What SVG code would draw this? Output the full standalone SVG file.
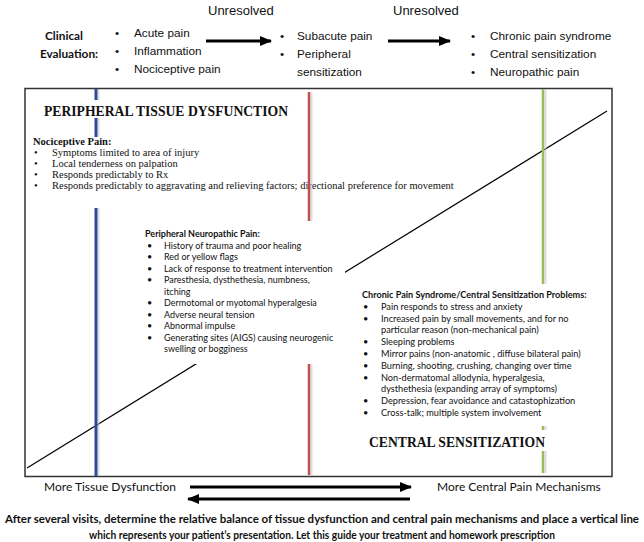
<svg xmlns="http://www.w3.org/2000/svg" width="644" height="542" viewBox="0 0 644 542">
<defs>
<marker id="ah" viewBox="0 0 12 10" refX="11" refY="5" markerWidth="12" markerHeight="10" markerUnits="userSpaceOnUse" orient="auto">
<path d="M0,0 L12,5 L0,10 z" fill="#000"/>
</marker>
</defs>
<style>
.top{font-family:"Liberation Sans",Arial,sans-serif;font-size:11.8px;fill:#111}
.unres{font-family:"Liberation Sans",Arial,sans-serif;font-size:13px;fill:#111}
.clin{font-family:Lato,"Liberation Sans",sans-serif;font-size:11.8px;font-weight:bold;fill:#111}
.ttl{font-family:"Liberation Serif","Times New Roman",serif;font-size:15px;font-weight:bold;fill:#111}
.ser{font-family:"Liberation Serif","Times New Roman",serif;font-size:10.5px;fill:#111}
.serb{font-family:"Liberation Serif","Times New Roman",serif;font-size:10.5px;font-weight:bold;fill:#111}
.cal{font-family:Lato,"Liberation Sans",sans-serif;font-size:9.2px;fill:#111}
.calb{font-family:Lato,"Liberation Sans",sans-serif;font-size:9.1px;font-weight:bold;fill:#111}
.caln{font-family:Lato,"Liberation Sans",sans-serif;font-size:9px;fill:#111}
.calnb{font-family:Lato,"Liberation Sans",sans-serif;font-size:9px;font-weight:bold;fill:#111}
.lbl{font-family:Lato,"Liberation Sans",sans-serif;font-size:12px;fill:#111}
.para{font-family:Lato,"Liberation Sans",sans-serif;font-size:11.2px;font-weight:bold;fill:#111}
.mask{fill:#fff}
.arr{stroke:#000;stroke-width:2.8;fill:none}
.shadow{stroke:#c8c8c8;stroke-width:2;opacity:0.6}
</style>
<rect width="644" height="542" fill="#fff"/>

<g id="header">
<text class="unres" x="208" y="15">Unresolved</text>
<text class="unres" x="393" y="15">Unresolved</text>
<text class="clin" x="64" y="40" text-anchor="middle">Clinical</text>
<text class="clin" x="69" y="58" text-anchor="middle">Evaluation:</text>
</g>

<g id="stage-acute">
<text class="top" x="115" y="37">•</text><text class="top" x="134" y="37">Acute pain</text>
<text class="top" x="115" y="55">•</text><text class="top" x="134" y="55">Inflammation</text>
<text class="top" x="115" y="73">•</text><text class="top" x="134" y="73">Nociceptive pain</text>
</g>
<g id="stage-subacute">
<text class="top" x="280" y="40">•</text><text class="top" x="297" y="40">Subacute pain</text>
<text class="top" x="280" y="58">•</text><text class="top" x="297" y="58">Peripheral</text>
<text class="top" x="297" y="76">sensitization</text>
</g>
<g id="stage-chronic">
<text class="top" x="471" y="40">•</text><text class="top" x="490" y="40">Chronic pain syndrome</text>
<text class="top" x="471" y="58">•</text><text class="top" x="490" y="58">Central sensitization</text>
<text class="top" x="471" y="76">•</text><text class="top" x="490" y="76">Neuropathic pain</text>
</g>

<g id="connectors">
<line class="arr" x1="206" y1="41" x2="271" y2="41" marker-end="url(#ah)"/>
<line class="arr" x1="388" y1="41" x2="450" y2="41" marker-end="url(#ah)"/>
<line class="arr" x1="190" y1="487" x2="411" y2="487" marker-end="url(#ah)"/>
<line class="arr" x1="410" y1="499" x2="188" y2="499" marker-end="url(#ah)"/>
</g>

<g id="spectrum-box">
<rect x="25" y="88.5" width="587" height="388" fill="#fff" stroke="#333" stroke-width="1.5"/>
<line x1="27" y1="468" x2="607" y2="111" stroke="#000" stroke-width="1.2"/>
<line class="shadow" x1="98.5" y1="89" x2="98.5" y2="476"/>
<line x1="96" y1="89" x2="96" y2="476" stroke="#2E4A9E" stroke-width="3"/>
</g>

<g id="title-peripheral">
<rect class="mask" x="40" y="100" width="252" height="18"/>
<text class="ttl" x="44" y="116" textLength="244" lengthAdjust="spacingAndGlyphs">PERIPHERAL TISSUE DYSFUNCTION</text>
</g>

<g id="nociceptive">
<rect class="mask" x="30" y="137" width="428" height="56"/>
<rect class="mask" x="90" y="192" width="14" height="16"/>
<text class="serb" x="33" y="145">Nociceptive Pain:</text>
<text class="ser" x="34" y="156">•</text><text class="ser" x="52" y="156">Symptoms limited to area of injury</text>
<text class="ser" x="34" y="167">•</text><text class="ser" x="52" y="167">Local tenderness on palpation</text>
<text class="ser" x="34" y="178">•</text><text class="ser" x="52" y="178">Responds predictably to Rx</text>
<text class="ser" x="34" y="189">•</text><text class="ser" x="52" y="189">Responds predictably to aggravating and relieving factors; directional preference for movement</text>
</g>

<g id="red-line">
<line class="shadow" x1="311.5" y1="92" x2="311.5" y2="475"/>
<line x1="309" y1="92" x2="309" y2="475" stroke="#C0504D" stroke-width="2.5"/>
</g>
<g id="green-line">
<line class="shadow" x1="545.5" y1="89" x2="545.5" y2="473"/>
<line x1="543" y1="89" x2="543" y2="473" stroke="#9BBB59" stroke-width="2.5"/>
</g>

<g id="neuropathic">
<rect class="mask" x="140" y="221" width="205" height="143"/>
<text class="calnb" x="145" y="237">Peripheral Neuropathic Pain:</text>
<text class="caln" x="147" y="248.5">•</text><text class="caln" x="164" y="248.5">History of trauma and poor healing</text>
<text class="caln" x="147" y="260">•</text><text class="caln" x="164" y="260">Red or yellow flags</text>
<text class="caln" x="147" y="271.5">•</text><text class="caln" x="164" y="271.5">Lack of response to treatment intervention</text>
<text class="caln" x="147" y="283">•</text><text class="caln" x="164" y="283">Paresthesia, dysthethesia, numbness,</text>
<text class="caln" x="164" y="294.5">itching</text>
<text class="caln" x="147" y="306">•</text><text class="caln" x="164" y="306">Dermotomal or myotomal hyperalgesia</text>
<text class="caln" x="147" y="317.5">•</text><text class="caln" x="164" y="317.5">Adverse neural tension</text>
<text class="caln" x="147" y="329">•</text><text class="caln" x="164" y="329">Abnormal impulse</text>
<text class="caln" x="147" y="340.5">•</text><text class="caln" x="164" y="340.5">Generating sites (AIGS) causing neurogenic</text>
<text class="caln" x="164" y="352">swelling or bogginess</text>
</g>

<g id="chronic">
<rect class="mask" x="355" y="284" width="255" height="142"/>
<text class="calb" x="362" y="298">Chronic Pain Syndrome/Central Sensitization Problems:</text>
<text class="cal" x="363" y="309.8">•</text><text class="cal" x="381" y="309.8">Pain responds to stress and anxiety</text>
<text class="cal" x="363" y="321.6">•</text><text class="cal" x="381" y="321.6">Increased pain by small movements, and for no</text>
<text class="cal" x="381" y="333.4">particular reason (non-mechanical pain)</text>
<text class="cal" x="363" y="345.2">•</text><text class="cal" x="381" y="345.2">Sleeping problems</text>
<text class="cal" x="363" y="357">•</text><text class="cal" x="381" y="357">Mirror pains (non-anatomic , diffuse bilateral pain)</text>
<text class="cal" x="363" y="368.8">•</text><text class="cal" x="381" y="368.8">Burning, shooting, crushing, changing over time</text>
<text class="cal" x="363" y="380.6">•</text><text class="cal" x="381" y="380.6">Non-dermatomal allodynia, hyperalgesia,</text>
<text class="cal" x="381" y="392.4">dysthethesia (expanding array of symptoms)</text>
<text class="cal" x="363" y="404.2">•</text><text class="cal" x="381" y="404.2">Depression, fear avoidance and catastophization</text>
<text class="cal" x="363" y="416">•</text><text class="cal" x="381" y="416">Cross-talk; multiple system involvement</text>
</g>

<g id="title-central">
<rect class="mask" x="365" y="430" width="184" height="21"/>
<text class="ttl" x="369" y="447" textLength="176" lengthAdjust="spacingAndGlyphs">CENTRAL SENSITIZATION</text>
</g>

<g id="axis-labels">
<text class="lbl" x="44" y="491">More Tissue Dysfunction</text>
<text class="lbl" x="437" y="491">More Central Pain Mechanisms</text>
</g>

<g id="footer">
<text class="para" x="5" y="523" textLength="634" lengthAdjust="spacingAndGlyphs">After several visits, determine the relative balance of tissue dysfunction and central pain mechanisms and place a vertical line</text>
<text class="para" x="89" y="539" textLength="466" lengthAdjust="spacingAndGlyphs">which represents your patient’s presentation.  Let this guide your treatment and homework prescription</text>
</g>
</svg>
